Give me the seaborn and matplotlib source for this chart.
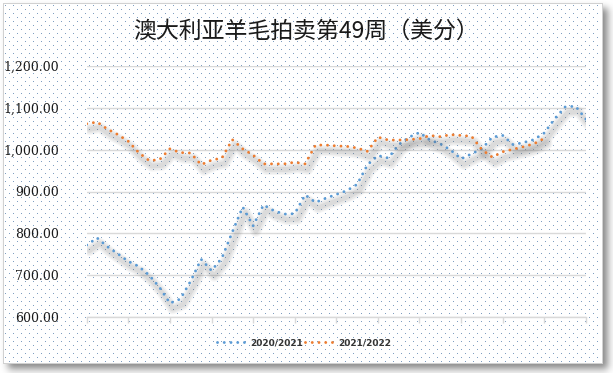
###################################################################################################
# Required Libraries
###################################################################################################
import numpy as np
import pandas as pd
import matplotlib
matplotlib.use("Agg")
import matplotlib.pyplot as plt
import matplotlib.patheffects as pe
from matplotlib.lines import Line2D
from matplotlib.ticker import FuncFormatter
import seaborn as sns

###################################################################################################
# Chart data (US cents, weekly wool auction prices)
###################################################################################################
title = "澳大利亚羊毛拍卖第49周（美分）"
seasons = ["2020/2021", "2021/2022"]
colors = ["#5B9BD5", "#ED7D31"]

price_2020_2021 = [772, 789, 768, 751, 733, 721, 700, 671, 633, 643,
                   686, 738, 711, 741, 803, 863, 818, 868, 854, 846,
                   847, 892, 874, 884, 893, 902, 917, 964, 986, 980,
                   1012, 1030, 1041, 1023, 1014, 999, 978, 990, 1002, 1030,
                   1034, 1012, 1017, 1024, 1040, 1074, 1102, 1104, 1073]

price_2021_2022 = [1062, 1066, 1049, 1036, 1020, 993, 974, 976, 1002, 993,
                   992, 964, 975, 980, 1024, 1002, 987, 966, 966, 966,
                   970, 966, 1011, 1011, 1009, 1008, 1004, 996, 1030, 1023,
                   1023, 1024, 1026, 1034, 1031, 1036, 1034, 1032, 1000, 982,
                   995, 1001, 1007, 1014, 1027]

y_ticks = [600, 700, 800, 900, 1000, 1100, 1200]

W, H = 613, 373


###################################################################################################
# Function name = background
# description = builds the framed, dotted chart area with its drop shadow as an image
###################################################################################################
def background():
    img = np.ones((H, W, 3))

    # soft grey drop shadow right / bottom
    shadow = np.zeros((H, W))
    shadow[8:369, 8:608] = 1.0
    for _ in range(3):
        k = 3
        pad = np.pad(shadow, k, mode="edge")
        shadow = sum(pad[k + dy:k + dy + H, k + dx:k + dx + W]
                     for dy in range(-k, k + 1) for dx in range(-k, k + 1)) / (2 * k + 1) ** 2
    img -= 0.45 * shadow[..., None]

    # chart area
    img[3:364, 3:603] = 1.0
    img[3, 3:603] = img[363, 3:603] = 0.82
    img[3:364, 3] = img[3:364, 602] = 0.82

    # staggered dot pattern
    dot = np.array([0.50, 0.62, 0.76])
    for r, y in enumerate(range(5, 362, 4)):
        start = 5 if r % 2 == 0 else 9
        for x in range(start, 601, 8):
            img[y, x] = dot
    return np.clip(img, 0, 1)


###################################################################################################
# Function name = main
###################################################################################################
def main():
    sns.set_theme(style="white")
    plt.rcParams["font.family"] = ["Noto Sans CJK SC", "DejaVu Sans"]

    df = pd.concat([
        pd.DataFrame({"week": range(len(price_2020_2021)), "price": price_2020_2021, "season": seasons[0]}),
        pd.DataFrame({"week": range(len(price_2021_2022)), "price": price_2021_2022, "season": seasons[1]}),
    ])

    fig = plt.figure(figsize=(W / 100, H / 100), dpi=100)
    fig.patch.set_alpha(0)
    fig.figimage(background(), 0, 0, zorder=-5)

    ax = fig.add_axes([86.7 / W, 1 - 317 / H, (585.9 - 86.7) / W, (317 - 66) / H])
    ax.set_facecolor("none")

    sns.lineplot(data=df, x="week", y="price", hue="season", hue_order=seasons,
                 palette=colors, linewidth=2.1, legend=False, ax=ax, zorder=3)

    # dotted lines with a blurred grey shadow underneath
    shadow = [pe.SimpleLineShadow(offset=(2, -4), shadow_color="#606060", alpha=a, rho=1,
                                  linewidth=lw, dashes={"dash_offset": 0, "dash_list": None})
              for lw, a in [(8, 0.06), (6, 0.08), (3.5, 0.10)]]
    for line in ax.lines:
        line.set_linestyle((0, (0.01, 2.3)))
        line.set_dash_capstyle("round")
        line.set_path_effects(shadow + [pe.Normal()])

    ax.set_xlim(0, 48)
    ax.set_ylim(600, 1200)
    ax.set_xticks(range(0, 49, 4))
    ax.set_xticklabels([])
    ax.set_yticks(y_ticks)
    ax.yaxis.set_major_formatter(FuncFormatter(lambda v, p: f"{v:,.2f}"))
    ax.set_xlabel("")
    ax.set_ylabel("")
    ax.grid(axis="y", color="#d9d9d9", linewidth=1)
    ax.set_axisbelow(True)
    for side in ["left", "right", "top"]:
        ax.spines[side].set_visible(False)
    ax.spines["bottom"].set_color("#d9d9d9")
    ax.spines["bottom"].set_linewidth(1)
    ax.tick_params(axis="x", bottom=True, length=4, width=1, color="#d9d9d9", direction="out")
    ax.tick_params(axis="y", left=False, pad=14, labelsize=9, labelcolor="#1a1a1a",
                   labelfontfamily="DejaVu Serif")

    fig.text(0.5, 1 - 31 / H, title, ha="center", va="center", fontsize=16.5,
             fontweight="medium", color="#1a1a1a")

    handles = [Line2D([], [], color=c, linewidth=2.1, linestyle=(0, (0.01, 2.3)),
                      dash_capstyle="round") for c in colors]
    fig.legend(handles, seasons, loc="center", bbox_to_anchor=(304 / W, 1 - 343 / H), ncol=2,
               frameon=False, handlelength=3.4, handletextpad=0.3, columnspacing=0.2,
               prop={"family": "DejaVu Sans", "size": 6.5, "weight": "bold"},
               labelcolor="#333333")

    fig.savefig("out.png", dpi=100)


###################################################################################################
# application starter
###################################################################################################
if __name__ == "__main__":
    main()
